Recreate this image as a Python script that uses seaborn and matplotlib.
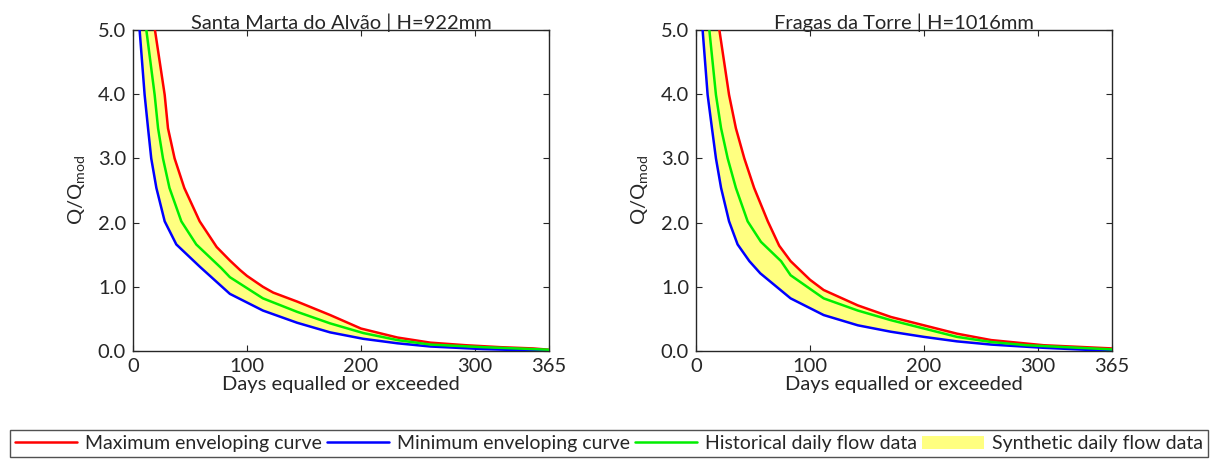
import numpy as np
import seaborn as sns
from matplotlib import pyplot as plt
from matplotlib.patches import Patch
from matplotlib.lines import Line2D

# Santa Marta do Alvão - curvas
sm_max_days = [16.5, 19, 27.8, 30.7, 36.5, 45, 58.5, 73.4, 85, 94, 100, 114, 123, 144, 173, 200, 232, 261, 292, 322, 351, 365]
sm_max_q = [6.0, 5.03, 3.99, 3.47, 3.0, 2.54, 2.02, 1.62, 1.41, 1.26, 1.17, 1.00, 0.91, 0.77, 0.56, 0.35, 0.21, 0.13, 0.09, 0.06, 0.04, 0.02]
sm_hist_days = [9.5, 11.7, 19, 22, 26.3, 32, 42.4, 55.5, 77.5, 85, 114, 144, 173, 202, 232, 261, 307, 365]
sm_hist_q = [6.0, 5.0, 3.99, 3.47, 3.0, 2.54, 2.02, 1.66, 1.29, 1.15, 0.82, 0.61, 0.43, 0.28, 0.17, 0.10, 0.06, 0.02]
sm_min_days = [4.5, 5.8, 10.2, 13.2, 16, 20.5, 27.8, 38, 58.8, 85, 114, 144, 173, 202, 232, 261, 307, 365]
sm_min_q = [6.0, 5.0, 3.99, 3.47, 3.0, 2.54, 2.02, 1.66, 1.31, 0.89, 0.63, 0.44, 0.29, 0.19, 0.12, 0.07, 0.03, 0.0]

# Fragas da Torre
ft_max_days = [17.5, 20.5, 29, 35, 42.4, 51, 63, 73, 83, 100, 112, 142, 171, 200, 229, 259, 305, 365]
ft_max_q = [6.0, 5.0, 3.99, 3.47, 3.0, 2.54, 2.02, 1.64, 1.40, 1.11, 0.95, 0.71, 0.53, 0.40, 0.27, 0.17, 0.09, 0.04]
ft_hist_days = [9.5, 11.7, 17.5, 22, 27.8, 35, 45.3, 57, 74.6, 83, 112, 142, 171, 200, 229, 259, 290, 365]
ft_hist_q = [6.0, 5.0, 3.99, 3.47, 3.0, 2.54, 2.02, 1.70, 1.40, 1.18, 0.82, 0.63, 0.48, 0.35, 0.22, 0.14, 0.09, 0.025]
ft_min_days = [4.5, 5.8, 10.2, 14, 17.5, 22, 29, 36.5, 46.8, 56.4, 83, 112, 142, 171, 200, 229, 259, 305, 365]
ft_min_q = [6.0, 5.0, 3.99, 3.47, 3.0, 2.54, 2.02, 1.66, 1.40, 1.21, 0.82, 0.56, 0.40, 0.30, 0.22, 0.15, 0.10, 0.05, 0.0]

titles = ['Santa Marta do Alvão | H=922mm', 'Fragas da Torre | H=1016mm']
x_ticks = [0, 100, 200, 300, 365]
y_ticks = [0.0, 1.0, 2.0, 3.0, 4.0, 5.0]

sns.set_style('ticks')
plt.rcParams['font.family'] = ['Lato', 'DejaVu Sans']
plt.rcParams['mathtext.default'] = 'regular'
plt.rcParams['axes.linewidth'] = 1.0

RED, BLUE, GREEN, YELLOW = '#ff0000', '#0000ff', '#00ee00', '#ffff80'
INK = '#262626'
FS = 14.5
LW = 1.8

fig = plt.figure(figsize=(12.11, 4.59), dpi=100)
ax1 = fig.add_axes([133 / 1211, 108 / 459, 416 / 1211, 321 / 459])
ax2 = fig.add_axes([696 / 1211, 108 / 459, 416 / 1211, 321 / 459])

panels = [
    (ax1, sm_max_days, sm_max_q, sm_hist_days, sm_hist_q, sm_min_days, sm_min_q),
    (ax2, ft_max_days, ft_max_q, ft_hist_days, ft_hist_q, ft_min_days, ft_min_q),
]

for i, (ax, xd_max, q_max, xd_hist, q_hist, xd_min, q_min) in enumerate(panels):
    # área sintética entre as envolventes
    ax.fill(np.concatenate([xd_max, xd_min[::-1]]), np.concatenate([q_max, q_min[::-1]]),
            color=YELLOW, lw=0, zorder=1)
    sns.lineplot(x=xd_max, y=q_max, ax=ax, color=RED, lw=LW, sort=False, zorder=3)
    sns.lineplot(x=xd_min, y=q_min, ax=ax, color=BLUE, lw=LW, sort=False, zorder=3)
    sns.lineplot(x=xd_hist, y=q_hist, ax=ax, color=GREEN, lw=LW, sort=False, zorder=4)
    ax.set_xlim(0, 365)
    ax.set_ylim(0, 5)
    ax.set_xticks(x_ticks)
    ax.set_yticks(y_ticks)
    ax.set_yticklabels([f'{v:.1f}' for v in y_ticks])
    ax.tick_params(direction='in', top=True, right=True, labelsize=FS, length=4,
                   colors=INK, pad=5)
    for s in ax.spines.values():
        s.set_color(INK)
        s.set_visible(True)
    ax.set_title(titles[i], fontsize=FS, pad=1, color=INK)
    ax.set_xlabel('Days equalled or exceeded', fontsize=FS, labelpad=1, color=INK)
    ax.set_ylabel(r'Q/Q$_{mod}$', fontsize=FS, labelpad=8, color=INK)

handles = [
    Line2D([], [], color=RED, lw=LW),
    Line2D([], [], color=BLUE, lw=LW),
    Line2D([], [], color=GREEN, lw=LW),
    Patch(facecolor=YELLOW, edgecolor='none'),
]
labels = ['Maximum enveloping curve', 'Minimum enveloping curve',
          'Historical daily flow data', 'Synthetic daily flow data']
leg = fig.legend(handles, labels, ncol=4, mode='expand', loc='lower left',
                 bbox_to_anchor=(10 / 1211, 2 / 459, 1198 / 1211, 30 / 459),
                 fontsize=14, frameon=True, fancybox=False, handlelength=3.2,
                 borderaxespad=0, columnspacing=0.6, handletextpad=0.4,
                 borderpad=0.25)
leg.get_frame().set_edgecolor(INK)
leg.get_frame().set_linewidth(1.0)

fig.savefig('out.png', dpi=100)
